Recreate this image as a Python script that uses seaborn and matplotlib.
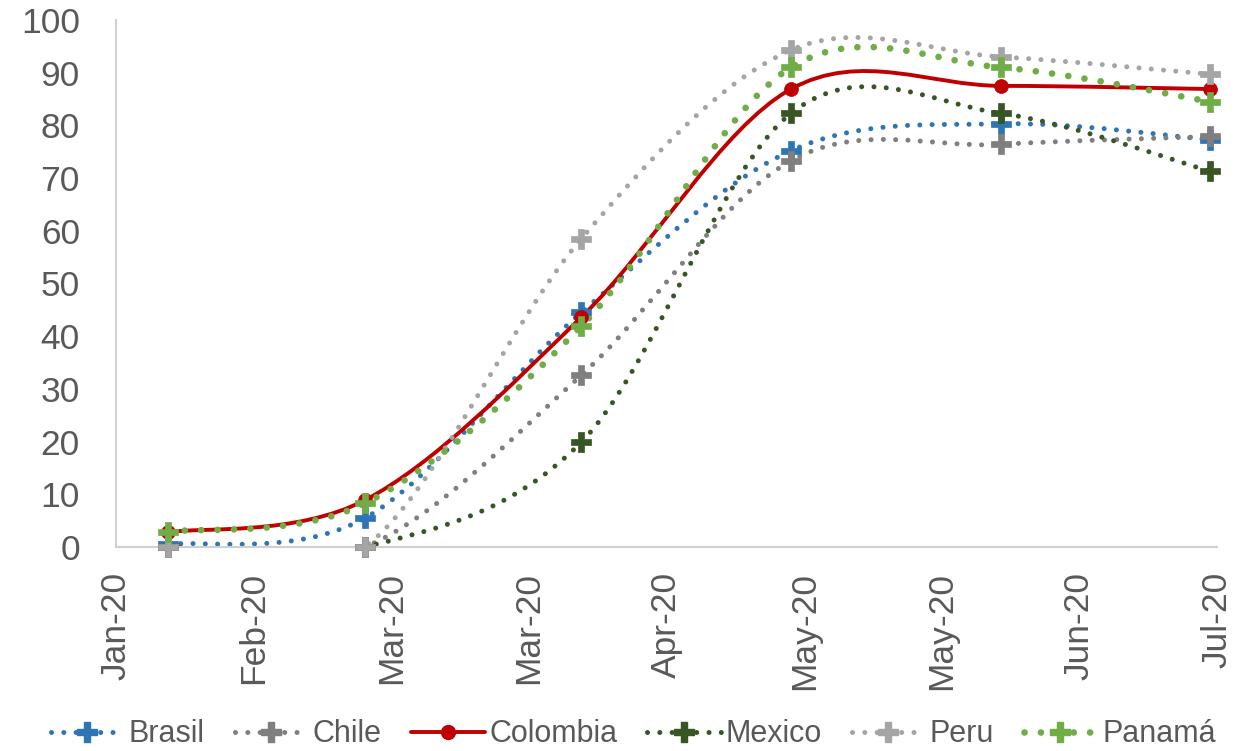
import matplotlib
matplotlib.use("Agg")
import matplotlib.pyplot as plt
import matplotlib.dates as mdates
from matplotlib.path import Path
from matplotlib.patches import PathPatch
from matplotlib.lines import Line2D
import numpy as np
import pandas as pd
import seaborn as sns

# data
dates = pd.to_datetime(["2020-02-02", "2020-03-03", "2020-04-05",
                        "2020-05-07", "2020-06-08", "2020-07-10"])
brasil = [0.5, 5.5, 44.5, 75.2, 80.3, 77.3]
chile = [0.0, 0.0, 32.6, 73.3, 76.4, 77.9]
colombia = [2.8, 8.9, 43.6, 86.9, 87.5, 86.9]
mexico = [0.0, 0.0, 19.9, 82.3, 82.3, 71.3]
peru = [0.0, 0.0, 58.5, 94.3, 93.0, 89.7]
panama = [2.9, 8.3, 41.9, 91.0, 91.0, 84.5]

series = ["Brasil", "Chile", "Colombia", "Mexico", "Peru", "Panamá"]
values = [brasil, chile, colombia, mexico, peru, panama]
colors = ["#2E75B6", "#7F7F7F", "#C00000", "#375623", "#A5A5A5", "#70AD47"]

x_start = pd.Timestamp("2020-01-25")
x_step = 21


def smooth_path(xs, ys):
    # Excel-style smoothed line: cubic bezier through the points
    verts = [(xs[0], ys[0])]
    codes = [Path.MOVETO]
    n = len(xs)
    for i in range(n - 1):
        a = i - 1 if i > 0 else i
        d = i + 2 if i + 2 < n else i + 1
        c1 = (xs[i] + (xs[i + 1] - xs[a]) / 6, ys[i] + (ys[i + 1] - ys[a]) / 6)
        c2 = (xs[i + 1] - (xs[d] - xs[i]) / 6, ys[i + 1] - (ys[d] - ys[i]) / 6)
        verts += [c1, c2, (xs[i + 1], ys[i + 1])]
        codes += [Path.CURVE4] * 3
    return Path(verts, codes)


sns.set_style("white")
plt.rcParams["font.family"] = ["Liberation Sans", "DejaVu Sans"]

fig = plt.figure(figsize=(12.44, 7.51), dpi=100)
ax = fig.add_axes([116 / 1244, 1 - 547 / 751, (1217 - 116) / 1244, (547 - 20) / 751])

xnum = mdates.date2num(dates)
handles = []
for name, vals, col in zip(series, values, colors):
    if name == "Colombia":
        style = dict(linestyle="-", linewidth=2.8)
        mk, ms = "o", 10
    else:
        lw = 4.8 if name == "Panamá" else 3.6
        style = dict(linestyle=(0, (0.01, 2.45)), linewidth=lw)
        mk, ms = "P", 14
    patch = PathPatch(smooth_path(xnum, vals), fill=False, edgecolor=col,
                      capstyle="round", joinstyle="round", **style)
    ax.add_patch(patch)
    sns.scatterplot(x=dates, y=vals, marker=mk, s=ms ** 2, color=col,
                    edgecolor=col, linewidth=0.5, ax=ax, clip_on=False, zorder=3)
    handles.append(Line2D([0], [0], color=col, marker=mk, markersize=ms,
                          dash_capstyle="round", **style))

ticks = [x_start + pd.Timedelta(days=x_step * k) for k in range(9)]
ax.set_xlim(ticks[0], ticks[-1])
ax.set_xticks(ticks)
ax.xaxis.set_major_formatter(mdates.DateFormatter("%b-%y"))
ax.set_ylim(0, 100)
ax.set_yticks(range(0, 101, 10))
ax.set_xlabel("")
ax.set_ylabel("")

ax.tick_params(axis="both", length=0, labelsize=25.5, labelcolor="#595959")
ax.tick_params(axis="y", pad=26)
ax.tick_params(axis="x", pad=18, labelrotation=90)

for side in ["top", "right"]:
    ax.spines[side].set_visible(False)
for side in ["left", "bottom"]:
    ax.spines[side].set_color("#D0D0D0")
    ax.spines[side].set_linewidth(1.5)

fig.legend(handles, series, loc="center", bbox_to_anchor=(0.509, 0.022),
           ncol=6, frameon=False, fontsize=22, labelcolor="#595959",
           handlelength=2.4, handletextpad=0.16, columnspacing=0.97)

fig.savefig("out.png", dpi=100)
